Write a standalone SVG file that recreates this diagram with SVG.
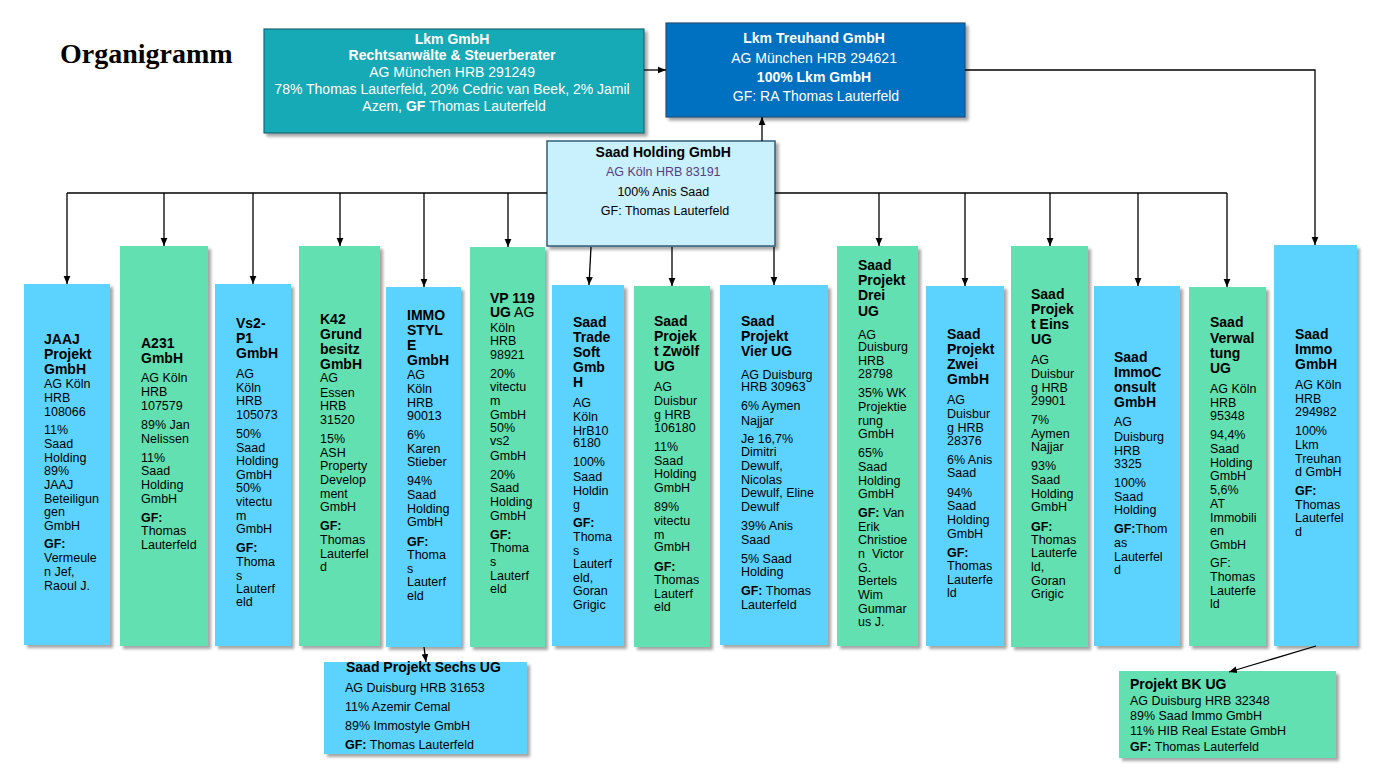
<svg xmlns="http://www.w3.org/2000/svg" width="1380" height="780" viewBox="0 0 1380 780">
<defs>
<filter id="sh" x="-10%" y="-10%" width="130%" height="130%">
<feDropShadow dx="3" dy="3" stdDeviation="1.5" flood-color="#000" flood-opacity="0.35"/>
</filter>
<marker id="ar" viewBox="0 0 10 10" refX="10" refY="5" markerWidth="8" markerHeight="8" markerUnits="userSpaceOnUse" orient="auto">
<path d="M0,0.8 L10,5 L0,9.2 z" fill="#000"/>
</marker>
</defs>
<style>
text{font-family:"Liberation Sans",Arial,sans-serif;font-size:12.5px;fill:#000}
.h{font-weight:bold;font-size:14px}
.g{font-weight:bold}
.w{fill:#fff;font-size:14px}
.blue{fill:#5BD3FF;filter:url(#sh)}
.green{fill:#62E0B1;filter:url(#sh)}
.c{stroke:#000;stroke-width:1.3;fill:none}
.ca{stroke:#000;stroke-width:1.3;fill:none;marker-end:url(#ar)}
.title{font-family:"Liberation Serif","Times New Roman",serif;font-size:28px;font-weight:bold}
</style>
<rect width="1380" height="780" fill="#fff"/>
<text class="title" x="60" y="63">Organigramm</text>

<g id="lkm-gmbh">
<rect x="264" y="29" width="380" height="104" fill="#12A9B6" stroke="#1E6870" stroke-width="1.2" filter="url(#sh)"/>
<text class="w" text-anchor="middle">
<tspan x="454" y="44" class="g">Lkm GmbH</tspan>
<tspan x="454" y="60" class="g">Rechtsanwälte &amp; Steuerberater</tspan>
<tspan x="454" y="77">AG München HRB 291249</tspan>
<tspan x="454" y="94">78% Thomas Lauterfeld, 20% Cedric van Beek, 2% Jamil</tspan>
<tspan x="454" y="111">Azem, <tspan class="g">GF</tspan> Thomas Lauterfeld</tspan>
</text>
</g>

<g id="lkm-treuhand">
<rect x="666" y="23" width="299" height="94" fill="#0070C0" stroke="#1F4E79" stroke-width="1.2" filter="url(#sh)"/>
<text class="w" text-anchor="middle">
<tspan x="816" y="43" class="g">Lkm Treuhand GmbH</tspan>
<tspan x="816" y="63">AG München HRB 294621</tspan>
<tspan x="816" y="82" class="g">100% Lkm GmbH</tspan>
<tspan x="816" y="101">GF: RA Thomas Lauterfeld</tspan>
</text>
</g>

<g id="saad-holding">
<rect x="547" y="141" width="228" height="105" fill="#C9F0FD" stroke="#2E5E78" stroke-width="1.5" filter="url(#sh)"/>
<text text-anchor="middle">
<tspan x="665" y="157" class="h">Saad Holding GmbH</tspan>
<tspan x="665" y="176" style="fill:#5A3C82">AG Köln HRB 83191</tspan>
<tspan x="665" y="196">100% Anis Saad</tspan>
<tspan x="665" y="215">GF: Thomas Lauterfeld</tspan>
</text>
</g>

<g id="jaaj">
<rect class="blue" x="24" y="284" width="86" height="361"/>
<text>
<tspan x="44" y="344" class="h">JAAJ</tspan><tspan x="44" y="359" class="h">Projekt</tspan><tspan x="44" y="374" class="h">GmbH</tspan>
<tspan x="44" y="388">AG Köln</tspan><tspan x="44" y="402">HRB</tspan><tspan x="44" y="416">108066</tspan>
<tspan x="44" y="434">11%</tspan><tspan x="44" y="448">Saad</tspan><tspan x="44" y="462">Holding</tspan><tspan x="44" y="475">89%</tspan><tspan x="44" y="489">JAAJ</tspan><tspan x="44" y="503">Beteiligun</tspan><tspan x="44" y="516">gen</tspan><tspan x="44" y="530">GmbH</tspan>
<tspan x="44" y="548" class="g">GF:</tspan><tspan x="44" y="562">Vermeule</tspan><tspan x="44" y="576">n Jef,</tspan><tspan x="44" y="590">Raoul J.</tspan>
</text>
</g>

<g id="a231">
<rect class="green" x="120" y="246" width="88" height="400"/>
<text>
<tspan x="141" y="348" class="h">A231</tspan><tspan x="141" y="363" class="h">GmbH</tspan>
<tspan x="141" y="382">AG Köln</tspan><tspan x="141" y="396">HRB</tspan><tspan x="141" y="410">107579</tspan>
<tspan x="141" y="429">89% Jan</tspan><tspan x="141" y="443">Nelissen</tspan>
<tspan x="141" y="462">11%</tspan><tspan x="141" y="475">Saad</tspan><tspan x="141" y="489">Holding</tspan><tspan x="141" y="503">GmbH</tspan>
<tspan x="141" y="522" class="g">GF:</tspan><tspan x="141" y="535">Thomas</tspan><tspan x="141" y="549">Lauterfeld</tspan>
</text>
</g>

<g id="vs2-p1">
<rect class="blue" x="215" y="284" width="76" height="362"/>
<text>
<tspan x="236" y="328" class="h">Vs2-</tspan><tspan x="236" y="343" class="h">P1</tspan><tspan x="236" y="358" class="h">GmbH</tspan>
<tspan x="236" y="378">AG</tspan><tspan x="236" y="392">Köln</tspan><tspan x="236" y="405">HRB</tspan><tspan x="236" y="419">105073</tspan>
<tspan x="236" y="438">50%</tspan><tspan x="236" y="452">Saad</tspan><tspan x="236" y="465">Holding</tspan><tspan x="236" y="479">GmbH</tspan><tspan x="236" y="492">50%</tspan><tspan x="236" y="506">vitectu</tspan><tspan x="236" y="520">m</tspan><tspan x="236" y="533">GmbH</tspan>
<tspan x="236" y="552" class="g">GF:</tspan><tspan x="236" y="566">Thoma</tspan><tspan x="236" y="580">s</tspan><tspan x="236" y="593">Lauterf</tspan><tspan x="236" y="606">eld</tspan>
</text>
</g>

<g id="k42">
<rect class="green" x="299" y="246" width="81" height="400"/>
<text>
<tspan x="320" y="324" class="h">K42</tspan><tspan x="320" y="339" class="h">Grund</tspan><tspan x="320" y="354" class="h">besitz</tspan><tspan x="320" y="369" class="h">GmbH</tspan>
<tspan x="320" y="382">AG</tspan><tspan x="320" y="397">Essen</tspan><tspan x="320" y="410">HRB</tspan><tspan x="320" y="424">31520</tspan>
<tspan x="320" y="443">15%</tspan><tspan x="320" y="457">ASH</tspan><tspan x="320" y="470">Property</tspan><tspan x="320" y="484">Develop</tspan><tspan x="320" y="498">ment</tspan><tspan x="320" y="511">GmbH</tspan>
<tspan x="320" y="530" class="g">GF:</tspan><tspan x="320" y="544">Thomas</tspan><tspan x="320" y="558">Lauterfel</tspan><tspan x="320" y="571">d</tspan>
</text>
</g>

<g id="immostyle">
<rect class="blue" x="386" y="287" width="75" height="360"/>
<text>
<tspan x="407" y="320" class="h">IMMO</tspan><tspan x="407" y="335" class="h">STYL</tspan><tspan x="407" y="350" class="h">E</tspan><tspan x="407" y="365" class="h">GmbH</tspan>
<tspan x="407" y="379">AG</tspan><tspan x="407" y="393">Köln</tspan><tspan x="407" y="407">HRB</tspan><tspan x="407" y="420">90013</tspan>
<tspan x="407" y="439">6%</tspan><tspan x="407" y="453">Karen</tspan><tspan x="407" y="466">Stieber</tspan>
<tspan x="407" y="485">94%</tspan><tspan x="407" y="499">Saad</tspan><tspan x="407" y="513">Holding</tspan><tspan x="407" y="526">GmbH</tspan>
<tspan x="407" y="546" class="g">GF:</tspan><tspan x="407" y="559">Thoma</tspan><tspan x="407" y="573">s</tspan><tspan x="407" y="586">Lauterf</tspan><tspan x="407" y="600">eld</tspan>
</text>
</g>

<g id="vp119">
<rect class="green" x="470" y="247" width="75" height="400"/>
<text>
<tspan x="490" y="303" class="h">VP 119</tspan><tspan x="490" y="317"><tspan class="h">UG</tspan><tspan style="font-size:14px"> AG</tspan></tspan>
<tspan x="490" y="332">Köln</tspan><tspan x="490" y="345">HRB</tspan><tspan x="490" y="359">98921</tspan>
<tspan x="490" y="378">20%</tspan><tspan x="490" y="391">vitectu</tspan><tspan x="490" y="405">m</tspan><tspan x="490" y="419">GmbH</tspan><tspan x="490" y="432">50%</tspan><tspan x="490" y="445">vs2</tspan><tspan x="490" y="460">GmbH</tspan>
<tspan x="490" y="479">20%</tspan><tspan x="490" y="492">Saad</tspan><tspan x="490" y="506">Holding</tspan><tspan x="490" y="520">GmbH</tspan>
<tspan x="490" y="539" class="g">GF:</tspan><tspan x="490" y="552">Thoma</tspan><tspan x="490" y="566">s</tspan><tspan x="490" y="580">Lauterf</tspan><tspan x="490" y="593">eld</tspan>
</text>
</g>

<g id="tradesoft">
<rect class="blue" x="552" y="285" width="72" height="361"/>
<text>
<tspan x="573" y="327" class="h">Saad</tspan><tspan x="573" y="342" class="h">Trade</tspan><tspan x="573" y="357" class="h">Soft</tspan><tspan x="573" y="372" class="h">Gmb</tspan><tspan x="573" y="387" class="h">H</tspan>
<tspan x="573" y="407">AG</tspan><tspan x="573" y="421">Köln</tspan><tspan x="573" y="435">HrB10</tspan><tspan x="573" y="447">6180</tspan>
<tspan x="573" y="466">100%</tspan><tspan x="573" y="481">Saad</tspan><tspan x="573" y="495">Holdin</tspan><tspan x="573" y="509">g</tspan>
<tspan x="573" y="527" class="g">GF:</tspan><tspan x="573" y="541">Thoma</tspan><tspan x="573" y="555">s</tspan><tspan x="573" y="568">Lauterf</tspan><tspan x="573" y="582">eld,</tspan><tspan x="573" y="595">Goran</tspan><tspan x="573" y="609">Grigic</tspan>
</text>
</g>

<g id="zwoelf">
<rect class="green" x="634" y="286" width="76" height="361"/>
<text>
<tspan x="654" y="326" class="h">Saad</tspan><tspan x="654" y="341" class="h">Projek</tspan><tspan x="654" y="356" class="h">t Zwölf</tspan><tspan x="654" y="371" class="h">UG</tspan>
<tspan x="654" y="391">AG</tspan><tspan x="654" y="405">Duisbur</tspan><tspan x="654" y="419">g HRB</tspan><tspan x="654" y="432">106180</tspan>
<tspan x="654" y="451">11%</tspan><tspan x="654" y="465">Saad</tspan><tspan x="654" y="478">Holding</tspan><tspan x="654" y="492">GmbH</tspan>
<tspan x="654" y="511">89%</tspan><tspan x="654" y="525">vitectu</tspan><tspan x="654" y="539">m</tspan><tspan x="654" y="551">GmbH</tspan>
<tspan x="654" y="571" class="g">GF:</tspan><tspan x="654" y="584">Thomas</tspan><tspan x="654" y="598">Lauterf</tspan><tspan x="654" y="611">eld</tspan>
</text>
</g>

<g id="vier">
<rect class="blue" x="720" y="285" width="108" height="360"/>
<text>
<tspan x="741" y="326" class="h">Saad</tspan><tspan x="741" y="341" class="h">Projekt</tspan><tspan x="741" y="356" class="h">Vier UG</tspan>
<tspan x="741" y="379">AG Duisburg</tspan><tspan x="741" y="391">HRB 30963</tspan>
<tspan x="741" y="410">6% Aymen</tspan><tspan x="741" y="425">Najjar</tspan>
<tspan x="741" y="443">Je 16,7%</tspan><tspan x="741" y="456">Dimitri</tspan><tspan x="741" y="470">Dewulf,</tspan><tspan x="741" y="484">Nicolas</tspan><tspan x="741" y="497">Dewulf, Eline</tspan><tspan x="741" y="511">Dewulf</tspan>
<tspan x="741" y="530">39% Anis</tspan><tspan x="741" y="544">Saad</tspan>
<tspan x="741" y="563">5% Saad</tspan><tspan x="741" y="576">Holding</tspan>
<tspan x="741" y="595"><tspan class="g">GF:</tspan> Thomas</tspan><tspan x="741" y="609">Lauterfeld</tspan>
</text>
</g>

<g id="drei">
<rect class="green" x="837" y="246" width="81" height="400"/>
<text>
<tspan x="858" y="270" class="h">Saad</tspan><tspan x="858" y="285" class="h">Projekt</tspan><tspan x="858" y="300" class="h">Drei</tspan><tspan x="858" y="316" class="h">UG</tspan>
<tspan x="858" y="339">AG</tspan><tspan x="858" y="351">Duisburg</tspan><tspan x="858" y="365">HRB</tspan><tspan x="858" y="378">28798</tspan>
<tspan x="858" y="397">35% WK</tspan><tspan x="858" y="411">Projektie</tspan><tspan x="858" y="425">rung</tspan><tspan x="858" y="438">GmbH</tspan>
<tspan x="858" y="457">65%</tspan><tspan x="858" y="471">Saad</tspan><tspan x="858" y="485">Holding</tspan><tspan x="858" y="498">GmbH</tspan>
<tspan x="858" y="517"><tspan class="g">GF:</tspan> Van</tspan><tspan x="858" y="531">Erik</tspan><tspan x="858" y="544">Christioe</tspan><tspan x="858" y="558" xml:space="preserve">n  Victor</tspan><tspan x="858" y="572">G.</tspan><tspan x="858" y="585">Bertels</tspan><tspan x="858" y="599">Wim</tspan><tspan x="858" y="613">Gummar</tspan><tspan x="858" y="626">us J.</tspan>
</text>
</g>

<g id="zwei">
<rect class="blue" x="926" y="286" width="78" height="360"/>
<text>
<tspan x="947" y="339" class="h">Saad</tspan><tspan x="947" y="354" class="h">Projekt</tspan><tspan x="947" y="369" class="h">Zwei</tspan><tspan x="947" y="384" class="h">GmbH</tspan>
<tspan x="947" y="404">AG</tspan><tspan x="947" y="418">Duisbur</tspan><tspan x="947" y="432">g HRB</tspan><tspan x="947" y="445">28376</tspan>
<tspan x="947" y="464">6% Anis</tspan><tspan x="947" y="477">Saad</tspan>
<tspan x="947" y="497">94%</tspan><tspan x="947" y="510">Saad</tspan><tspan x="947" y="524">Holding</tspan><tspan x="947" y="538">GmbH</tspan>
<tspan x="947" y="557" class="g">GF:</tspan><tspan x="947" y="570">Thomas</tspan><tspan x="947" y="584">Lauterfe</tspan><tspan x="947" y="597">ld</tspan>
</text>
</g>

<g id="eins">
<rect class="green" x="1011" y="246" width="77" height="401"/>
<text>
<tspan x="1031" y="299" class="h">Saad</tspan><tspan x="1031" y="314" class="h">Projek</tspan><tspan x="1031" y="329" class="h">t Eins</tspan><tspan x="1031" y="344" class="h">UG</tspan>
<tspan x="1031" y="364">AG</tspan><tspan x="1031" y="378">Duisbur</tspan><tspan x="1031" y="392">g HRB</tspan><tspan x="1031" y="405">29901</tspan>
<tspan x="1031" y="424">7%</tspan><tspan x="1031" y="438">Aymen</tspan><tspan x="1031" y="451">Najjar</tspan>
<tspan x="1031" y="470">93%</tspan><tspan x="1031" y="484">Saad</tspan><tspan x="1031" y="498">Holding</tspan><tspan x="1031" y="511">GmbH</tspan>
<tspan x="1031" y="531" class="g">GF:</tspan><tspan x="1031" y="544">Thomas</tspan><tspan x="1031" y="557">Lauterfe</tspan><tspan x="1031" y="571">ld,</tspan><tspan x="1031" y="585">Goran</tspan><tspan x="1031" y="598">Grigic</tspan>
</text>
</g>

<g id="immoconsult">
<rect class="blue" x="1094" y="286" width="86" height="360"/>
<text>
<tspan x="1114" y="362" class="h">Saad</tspan><tspan x="1114" y="377" class="h">ImmoC</tspan><tspan x="1114" y="392" class="h">onsult</tspan><tspan x="1114" y="407" class="h">GmbH</tspan>
<tspan x="1114" y="426">AG</tspan><tspan x="1114" y="441">Duisburg</tspan><tspan x="1114" y="455">HRB</tspan><tspan x="1114" y="468">3325</tspan>
<tspan x="1114" y="487">100%</tspan><tspan x="1114" y="501">Saad</tspan><tspan x="1114" y="514">Holding</tspan>
<tspan x="1114" y="533"><tspan class="g">GF:</tspan>Thom</tspan><tspan x="1114" y="547">as</tspan><tspan x="1114" y="561">Lauterfel</tspan><tspan x="1114" y="574">d</tspan>
</text>
</g>

<g id="verwaltung">
<rect class="green" x="1189" y="287" width="77" height="359"/>
<text>
<tspan x="1210" y="327" class="h">Saad</tspan><tspan x="1210" y="343" class="h">Verwal</tspan><tspan x="1210" y="358" class="h">tung</tspan><tspan x="1210" y="373" class="h">UG</tspan>
<tspan x="1210" y="393">AG Köln</tspan><tspan x="1210" y="407">HRB</tspan><tspan x="1210" y="420">95348</tspan>
<tspan x="1210" y="439">94,4%</tspan><tspan x="1210" y="453">Saad</tspan><tspan x="1210" y="467">Holding</tspan><tspan x="1210" y="480">GmbH</tspan><tspan x="1210" y="494">5,6%</tspan><tspan x="1210" y="508">AT</tspan><tspan x="1210" y="522">Immobili</tspan><tspan x="1210" y="535">en</tspan><tspan x="1210" y="549">GmbH</tspan>
<tspan x="1210" y="567">GF:</tspan><tspan x="1210" y="581">Thomas</tspan><tspan x="1210" y="595">Lauterfe</tspan><tspan x="1210" y="608">ld</tspan>
</text>
</g>

<g id="saad-immo">
<rect class="blue" x="1274" y="245" width="83" height="401"/>
<text>
<tspan x="1295" y="339" class="h">Saad</tspan><tspan x="1295" y="354" class="h">Immo</tspan><tspan x="1295" y="369" class="h">GmbH</tspan>
<tspan x="1295" y="389">AG Köln</tspan><tspan x="1295" y="403">HRB</tspan><tspan x="1295" y="416">294982</tspan>
<tspan x="1295" y="435">100%</tspan><tspan x="1295" y="449">Lkm</tspan><tspan x="1295" y="463">Treuhan</tspan><tspan x="1295" y="476">d GmbH</tspan>
<tspan x="1295" y="495" class="g">GF:</tspan><tspan x="1295" y="509">Thomas</tspan><tspan x="1295" y="522">Lauterfel</tspan><tspan x="1295" y="536">d</tspan>
</text>
</g>

<g id="sechs">
<rect class="blue" x="324" y="662" width="203" height="92"/>
<text>
<tspan x="346" y="672" class="h">Saad Projekt Sechs UG</tspan>
<tspan x="345" y="692">AG Duisburg HRB 31653</tspan>
<tspan x="345" y="711">11% Azemir Cemal</tspan>
<tspan x="345" y="730">89% Immostyle GmbH</tspan>
<tspan x="345" y="749"><tspan class="g">GF:</tspan> Thomas Lauterfeld</tspan>
</text>
</g>

<g id="projekt-bk">
<rect class="green" x="1119" y="671" width="217" height="87"/>
<text>
<tspan x="1130" y="689" class="h">Projekt BK UG</tspan>
<tspan x="1130" y="705">AG Duisburg HRB 32348</tspan>
<tspan x="1130" y="720">89% Saad Immo GmbH</tspan>
<tspan x="1130" y="735">11% HIB Real Estate GmbH</tspan>
<tspan x="1130" y="751"><tspan class="g">GF:</tspan> Thomas Lauterfeld</tspan>
</text>
</g>

<g id="connectors">
<path class="ca" d="M644,70 H666"/>
<path class="ca" d="M762,141 V117"/>
<path class="ca" d="M965,70 H1315 V245"/>
<path class="c" d="M547,193 H67"/>
<path class="ca" d="M67,193 V284"/>
<path class="ca" d="M164,193 V246"/>
<path class="ca" d="M253,193 V284"/>
<path class="ca" d="M340,193 V246"/>
<path class="ca" d="M424,193 V287"/>
<path class="ca" d="M508,193 V247"/>
<path class="c" d="M775,193 H1227"/>
<path class="ca" d="M879,193 V246"/>
<path class="ca" d="M965,193 V286"/>
<path class="ca" d="M1050,193 V246"/>
<path class="ca" d="M1138,193 V286"/>
<path class="ca" d="M1227,193 V287"/>
<path class="ca" d="M591,247 L589,285"/>
<path class="ca" d="M672,247 V286"/>
<path class="ca" d="M774,247 V285"/>
<path class="ca" d="M424,647 L426,662"/>
<path class="ca" d="M1316,646 L1229,672"/>
</g>
</svg>
